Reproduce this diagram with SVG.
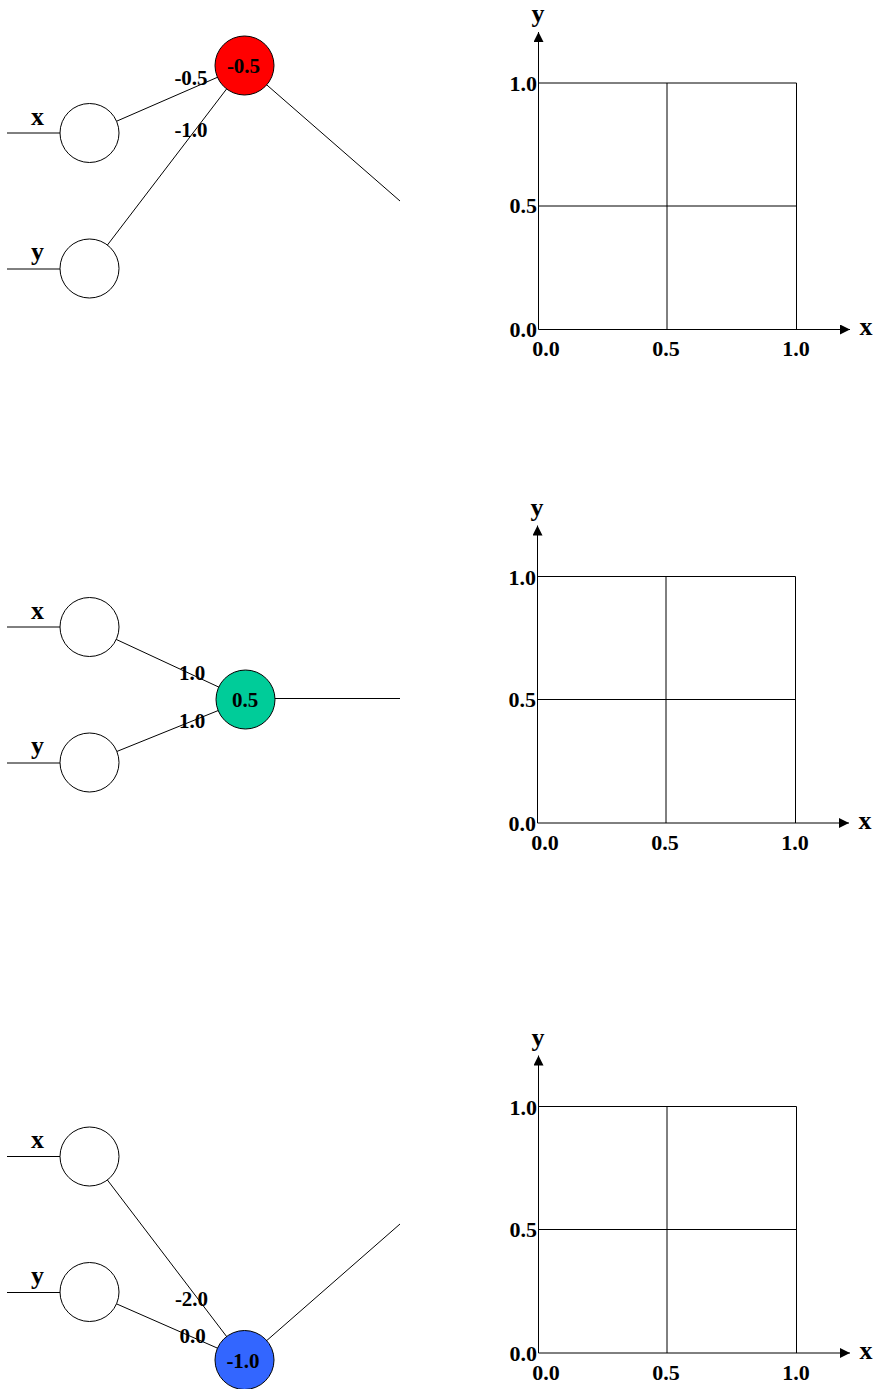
<svg xmlns="http://www.w3.org/2000/svg" xmlns:xlink="http://www.w3.org/1999/xlink" width="874" height="1389" viewBox="0 0 874 1389">
<style>
.ln{stroke:#000;stroke-width:1;fill:none}
.nd{stroke:#000;stroke-width:1;fill:#fff}
.t{font-family:"Liberation Serif","Times New Roman",serif;font-weight:bold;fill:#000}
.w{font-size:21px;text-anchor:middle}
.v{font-size:21px;text-anchor:middle}
.lab{font-size:26px;text-anchor:middle}
.num{font-size:22px}
.ne{text-anchor:end}
.nm{text-anchor:middle}
</style>
<defs>
<marker id="ah" markerWidth="10" markerHeight="10" refX="10" refY="5" orient="auto" markerUnits="userSpaceOnUse">
<path d="M0,0 L10,5 L0,10 Z" fill="#000"/>
</marker>
<g id="plot">
<line class="ln" x1="538.5" y1="329.5" x2="538.5" y2="32" marker-end="url(#ah)"/>
<line class="ln" x1="538.5" y1="329.5" x2="850" y2="329.5" marker-end="url(#ah)"/>
<line class="ln" x1="538.5" y1="83" x2="796.5" y2="83"/>
<line class="ln" x1="538.5" y1="206" x2="796.5" y2="206"/>
<line class="ln" x1="667" y1="83" x2="667" y2="329.5"/>
<line class="ln" x1="796.5" y1="83" x2="796.5" y2="329.5"/>
<text class="t lab" x="538" y="22">y</text>
<text class="t lab" x="866" y="335">x</text>
<text class="t num ne" x="537" y="91">1.0</text>
<text class="t num ne" x="537" y="213">0.5</text>
<text class="t num ne" x="537" y="337">0.0</text>
<text class="t num nm" x="546" y="356">0.0</text>
<text class="t num nm" x="666" y="356">0.5</text>
<text class="t num nm" x="796" y="356">1.0</text>
</g>
</defs>

<g id="connectors">
<line class="ln" x1="7" y1="133" x2="60" y2="133"/>
<line class="ln" x1="7" y1="269" x2="60" y2="269"/>
<line class="ln" x1="89.5" y1="133" x2="244.5" y2="65.5"/>
<line class="ln" x1="89.5" y1="268.5" x2="244.5" y2="65.5"/>
<line class="ln" x1="244.5" y1="65.5" x2="400" y2="201"/>
<line class="ln" x1="7" y1="627" x2="60" y2="627"/>
<line class="ln" x1="7" y1="763" x2="60" y2="763"/>
<line class="ln" x1="89.5" y1="627" x2="245.5" y2="699.5"/>
<line class="ln" x1="89.5" y1="762.5" x2="245.5" y2="699.5"/>
<line class="ln" x1="275" y1="698.5" x2="400" y2="698.5"/>
<line class="ln" x1="7" y1="1156.5" x2="60" y2="1156.5"/>
<line class="ln" x1="7" y1="1292.5" x2="60" y2="1292.5"/>
<line class="ln" x1="89.5" y1="1156.5" x2="244.5" y2="1360"/>
<line class="ln" x1="89.5" y1="1292" x2="244.5" y2="1360"/>
<line class="ln" x1="244.5" y1="1360" x2="400" y2="1224"/>
</g>

<g id="panel1-inputs">
<g id="n1x"><circle class="nd" cx="89.5" cy="133" r="29.5"/><text class="t lab" x="37.5" y="125">x</text></g>
<g id="n1y"><circle class="nd" cx="89.5" cy="268.5" r="29.5"/><text class="t lab" x="37.5" y="260">y</text></g>
<g id="n1out"><circle class="nd" cx="244.5" cy="65.5" r="29.5" style="fill:#ff0000"/><text class="t v" x="243.5" y="73">-0.5</text></g>
<text class="t w" x="191" y="85">-0.5</text>
<text class="t w" x="191" y="137">-1.0</text>
</g>

<g id="panel2-inputs">
<g id="n2x"><circle class="nd" cx="89.5" cy="627" r="29.5"/><text class="t lab" x="37.5" y="619">x</text></g>
<g id="n2y"><circle class="nd" cx="89.5" cy="762.5" r="29.5"/><text class="t lab" x="37.5" y="754">y</text></g>
<g id="n2out"><circle class="nd" cx="245.5" cy="699.5" r="29.5" style="fill:#00cc99"/><text class="t v" x="245" y="706.5">0.5</text></g>
<text class="t w" x="192" y="680">1.0</text>
<text class="t w" x="192" y="728">1.0</text>
</g>

<g id="panel3-inputs">
<g id="n3x"><circle class="nd" cx="89.5" cy="1156.5" r="29.5"/><text class="t lab" x="37.5" y="1148">x</text></g>
<g id="n3y"><circle class="nd" cx="89.5" cy="1292" r="29.5"/><text class="t lab" x="37.5" y="1283.5">y</text></g>
<g id="n3out"><circle class="nd" cx="244.5" cy="1360" r="29.5" style="fill:#3366ff"/><text class="t v" x="243" y="1367.5">-1.0</text></g>
<text class="t w" x="191.5" y="1306">-2.0</text>
<text class="t w" x="192.5" y="1343">0.0</text>
</g>

<g id="plot1"><use xlink:href="#plot"/></g>
<g id="plot2"><use xlink:href="#plot" transform="translate(-1,493.5)"/></g>
<g id="plot3"><use xlink:href="#plot" transform="translate(0,1023.5)"/></g>
</svg>
